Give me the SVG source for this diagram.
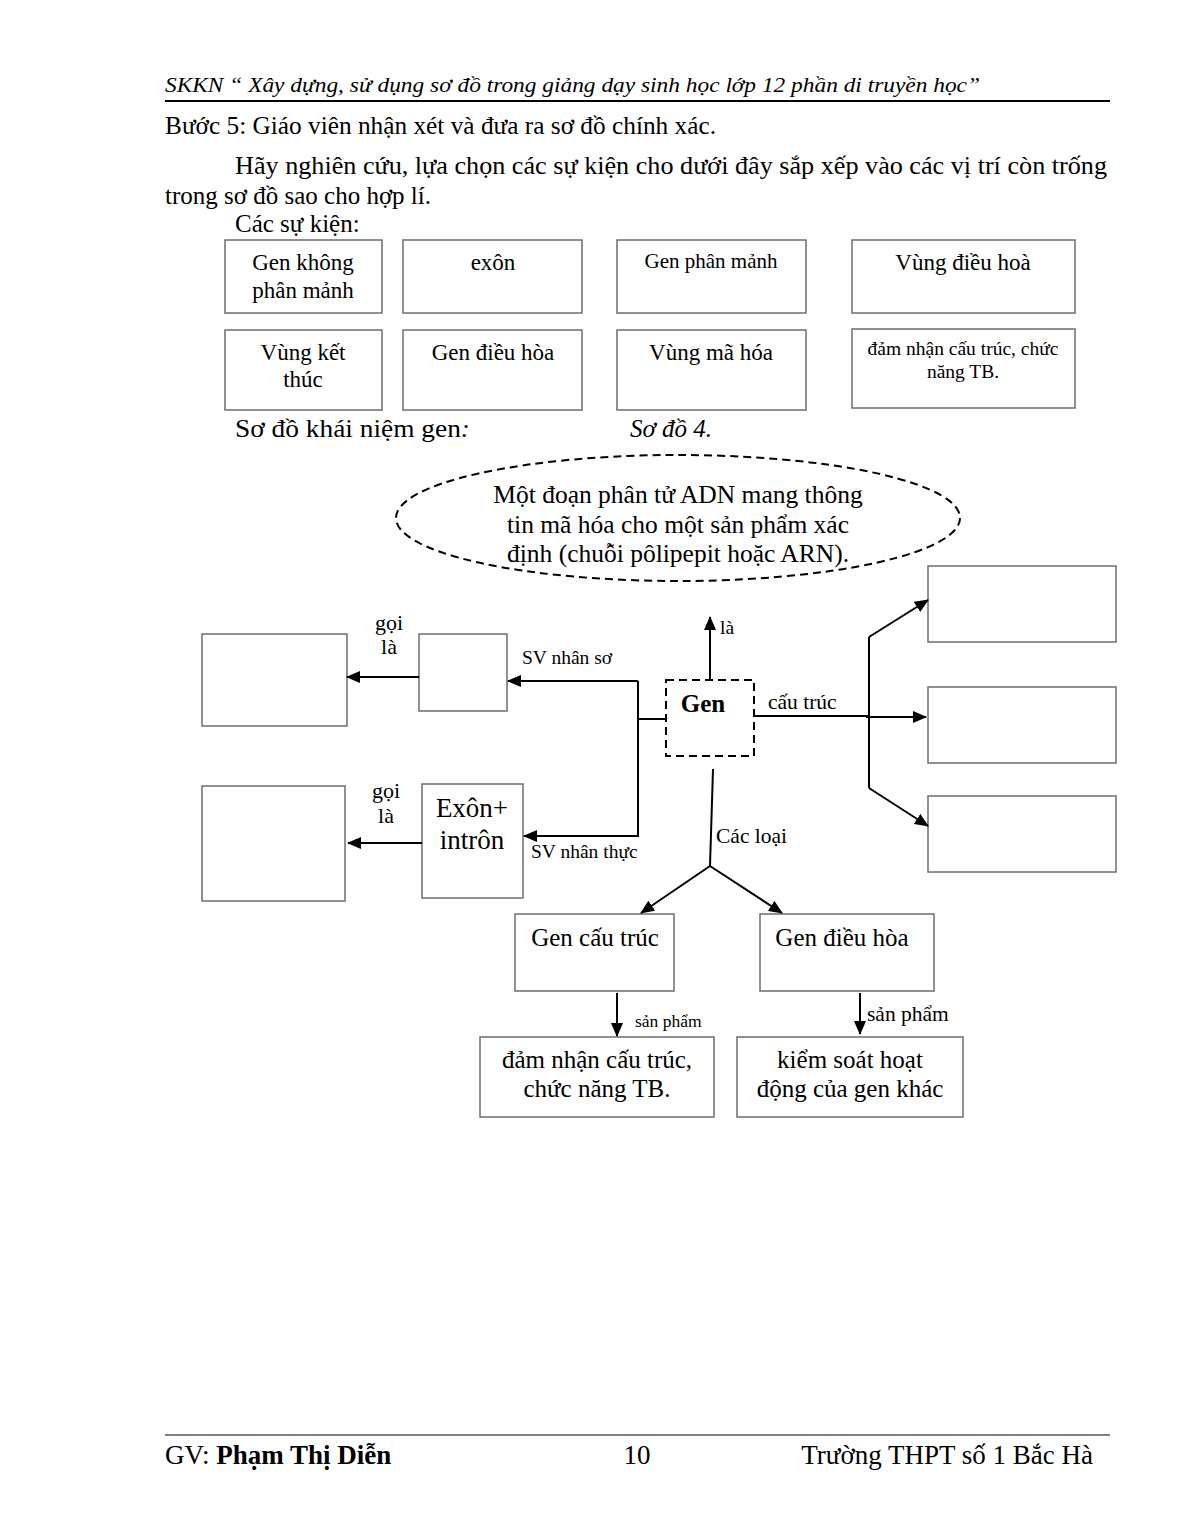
<svg xmlns="http://www.w3.org/2000/svg" width="1190" height="1540" viewBox="0 0 1190 1540">
<defs>
<marker id="ah" viewBox="0 0 14 12" refX="13" refY="6" markerWidth="14" markerHeight="12" markerUnits="userSpaceOnUse" orient="auto">
<path d="M0,0 L14,6 L0,12 z" fill="#000"/>
</marker>
</defs>
<style>
text{font-family:"Liberation Serif","Times New Roman",serif;fill:#000}
.t25{font-size:25px}
.t23{font-size:23px}
.t21{font-size:21px}
.t19{font-size:19.5px}
.box{fill:#fff;stroke:#6e6e6e;stroke-width:1.5}
.dash{fill:none;stroke:#000;stroke-width:2;stroke-dasharray:8,5}
.ln{fill:none;stroke:#000;stroke-width:2}
.ar{fill:none;stroke:#000;stroke-width:2;marker-end:url(#ah)}
.c{text-anchor:middle}
</style>
<rect width="1190" height="1540" fill="#fff"/>

<g id="header">
<text x="165" y="92" font-size="22" font-style="italic" textLength="815" lengthAdjust="spacingAndGlyphs">SKKN “ Xây dựng, sử dụng sơ đồ trong giảng dạy sinh học lớp 12 phần di truyền học”</text>
<line x1="165" y1="101" x2="1110" y2="101" stroke="#000" stroke-width="2"/>
<text x="165" y="134" class="t25" textLength="551" lengthAdjust="spacingAndGlyphs">Bước 5: Giáo viên nhận xét và đưa ra sơ đồ chính xác.</text>
<text x="235" y="174" class="t25" textLength="872" lengthAdjust="spacingAndGlyphs">Hãy nghiên cứu, lựa chọn các sự kiện cho dưới đây sắp xếp vào các vị trí còn trống</text>
<text x="165" y="204" class="t25">trong sơ đồ sao cho hợp lí.</text>
<text x="235" y="232" class="t25">Các sự kiện:</text>
</g>

<g id="ev1"><rect class="box" x="225" y="240" width="157" height="73"/><text class="t23 c" x="303" y="270">Gen không</text><text class="t23 c" x="303" y="298">phân mảnh</text></g>
<g id="ev2"><rect class="box" x="403" y="240" width="179" height="73"/><text class="t23 c" x="493" y="270">exôn</text></g>
<g id="ev3"><rect class="box" x="617" y="240" width="189" height="73"/><text class="t21 c" x="711" y="268">Gen phân mảnh</text></g>
<g id="ev4"><rect class="box" x="852" y="240" width="223" height="73"/><text class="t23 c" x="963" y="270">Vùng điều hoà</text></g>
<g id="ev5"><rect class="box" x="225" y="330" width="157" height="80"/><text class="t23 c" x="303" y="360">Vùng kết</text><text class="t23 c" x="303" y="387">thúc</text></g>
<g id="ev6"><rect class="box" x="403" y="330" width="179" height="80"/><text class="t23 c" x="493" y="360">Gen điều hòa</text></g>
<g id="ev7"><rect class="box" x="617" y="330" width="189" height="80"/><text class="t23 c" x="711" y="360">Vùng mã hóa</text></g>
<g id="ev8"><rect class="box" x="852" y="329" width="223" height="79"/><text class="t19 c" x="963" y="355">đảm nhận cấu trúc, chức</text><text class="t19 c" x="963" y="378">năng TB.</text></g>

<g id="caption">
<text x="235" y="437" class="t25" textLength="235" lengthAdjust="spacingAndGlyphs">Sơ đồ khái niệm gen<tspan font-style="italic">:</tspan></text>
<text x="630" y="437" class="t25" font-style="italic">Sơ đồ 4.</text>
</g>

<g id="def">
<ellipse class="dash" cx="678" cy="518" rx="282" ry="63"/>
<text class="c" font-size="25.5" x="678" y="503">Một đoạn phân tử ADN mang thông</text>
<text class="c" font-size="25.5" x="678" y="533">tin mã hóa cho một sản phẩm xác</text>
<text class="c" font-size="25.5" x="678" y="562">định (chuỗi pôlipepit hoặc ARN).</text>
</g>

<g id="gen">
<rect class="dash" x="666" y="680" width="88" height="76" fill="#fff"/>
<text x="703" y="712" font-size="25" font-weight="bold" class="c">Gen</text>
</g>

<g id="b_ns_name"><rect class="box" x="202" y="634" width="145" height="92"/></g>
<g id="b_ns"><rect class="box" x="419" y="634" width="88" height="77"/></g>
<g id="b_nt_name"><rect class="box" x="202" y="786" width="143" height="115"/></g>
<g id="b_nt"><rect class="box" x="422" y="784" width="101" height="114"/><text class="c" font-size="27" x="472" y="817">Exôn+</text><text class="c" font-size="27" x="472" y="849">intrôn</text></g>
<g id="r1"><rect class="box" x="928" y="566" width="188" height="76"/></g>
<g id="r2"><rect class="box" x="928" y="687" width="188" height="76"/></g>
<g id="r3"><rect class="box" x="928" y="796" width="188" height="76"/></g>
<g id="g_ct"><rect class="box" x="515" y="914" width="159" height="77"/><text class="t25 c" x="595" y="946">Gen cấu trúc</text></g>
<g id="g_dh"><rect class="box" x="760" y="914" width="174" height="77"/><text class="t25 c" x="842" y="946">Gen điều hòa</text></g>
<g id="p_ct"><rect class="box" x="480" y="1037" width="234" height="80"/><text class="t25 c" x="597" y="1068">đảm nhận cấu trúc,</text><text class="t25 c" x="597" y="1097">chức năng TB.</text></g>
<g id="p_dh"><rect class="box" x="737" y="1037" width="226" height="80"/><text class="t25 c" x="850" y="1068">kiểm soát hoạt</text><text class="t25 c" x="850" y="1097">động của gen khác</text></g>

<g id="connectors">
<line class="ar" x1="710" y1="680" x2="710" y2="617"/>
<text x="720" y="634" font-size="19.5">là</text>
<polyline class="ln" points="666,719 638,719"/>
<line class="ln" x1="638" y1="681" x2="638" y2="837"/>
<line class="ar" x1="638" y1="681" x2="508" y2="681"/>
<text x="522" y="664" class="t19">SV nhân sơ</text>
<line class="ar" x1="638" y1="836" x2="524" y2="836"/>
<text x="531" y="858" class="t19">SV nhân thực</text>
<line class="ar" x1="419" y1="677" x2="347" y2="677"/>
<text class="c" font-size="22" x="389" y="630">gọi</text><text class="c" font-size="22" x="389" y="654">là</text>
<line class="ar" x1="422" y1="843" x2="348" y2="843"/>
<text class="c" font-size="22" x="386" y="798">gọi</text><text class="c" font-size="22" x="386" y="823">là</text>
<line class="ln" x1="754" y1="716" x2="869" y2="716"/>
<line class="ar" x1="866" y1="717" x2="926" y2="717"/>
<text x="768" y="709" font-size="21.5">cấu trúc</text>
<line class="ln" x1="869" y1="637" x2="869" y2="788"/>
<line class="ar" x1="869" y1="637" x2="928" y2="600"/>
<line class="ar" x1="869" y1="788" x2="928" y2="826"/>
<line class="ln" x1="713" y1="769" x2="710" y2="866"/>
<text x="716" y="843" font-size="21.5">Các loại</text>
<line class="ar" x1="710" y1="866" x2="641" y2="913"/>
<line class="ar" x1="710" y1="866" x2="782" y2="913"/>
<line class="ar" x1="617" y1="993" x2="617" y2="1036"/>
<text x="635" y="1027" font-size="17.5">sản phẩm</text>
<line class="ar" x1="860" y1="993" x2="860" y2="1034"/>
<text x="867" y="1021" font-size="21.5">sản phẩm</text>
</g>

<g id="footer">
<line x1="165" y1="1435" x2="1110" y2="1435" stroke="#000" stroke-width="1.2"/>
<text x="165" y="1464" font-size="27">GV: <tspan font-weight="bold">Phạm Thị Diễn</tspan></text>
<text x="637" y="1464" font-size="27" class="c">10</text>
<text x="1093" y="1464" font-size="27" text-anchor="end">Trường THPT số 1 Bắc Hà</text>
</g>
</svg>
